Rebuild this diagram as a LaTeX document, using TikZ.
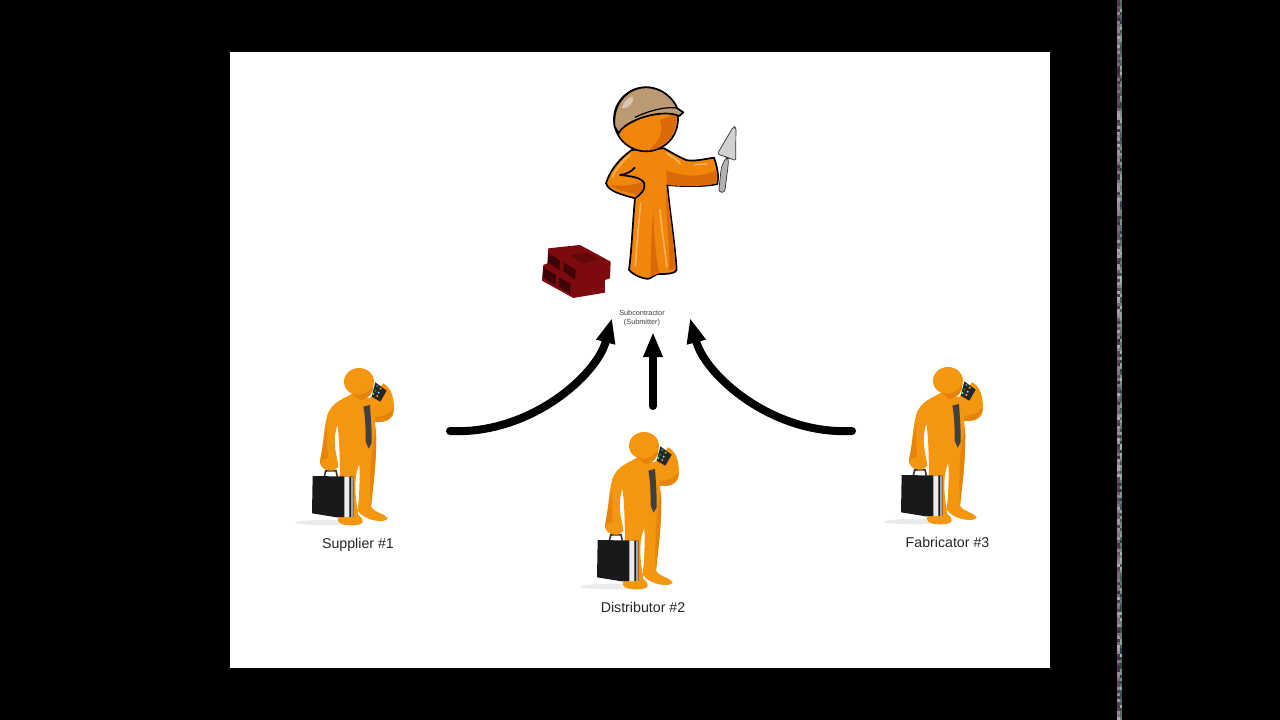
\documentclass[tikz,border=0pt]{standalone}
\usepackage{fontspec}
\setmainfont{Liberation Sans}
\usetikzlibrary{arrows.meta}
\definecolor{suit}{HTML}{F0860C}
\definecolor{suitdark}{HTML}{D96A05}
\definecolor{suitlight}{HTML}{FBB45C}
\definecolor{manfill}{HTML}{F4960F}
\definecolor{mandark}{HTML}{E5830A}
\definecolor{helmet}{HTML}{BC9A73}
\definecolor{brick}{HTML}{7C0A0E}
\definecolor{brickdark}{HTML}{3E0306}
\tikzset{
  flow/.style={line width=8pt, line cap=round, -{Triangle[length=25pt,width=18pt]}},
  caption/.style={font=\fontsize{14.2}{16}\selectfont, text=black!85, anchor=base},
  caller/.pic={
    \begin{scope}[x=0.3333pt, y=-0.3333pt]
      \fill[black!8] (110,518) ellipse (95 and 8);
      % body
      \fill[manfill] (190,130) .. controls (150,150) and (125,160) .. (112,195)
        .. controls (100,240) and (100,290) .. (90,335)
        .. controls (90,360) and (130,370) .. (145,350)
        .. controls (140,310) and (125,280) .. (142,225)
        .. controls (152,280) and (150,420) .. (148,500)
        .. controls (135,515) and (150,527) .. (190,526)
        .. controls (225,525) and (225,510) .. (205,495)
        .. controls (195,440) and (190,380) .. (208,342)
        .. controls (210,390) and (208,440) .. (203,482)
        .. controls (225,515) and (290,520) .. (293,505)
        .. controls (285,490) and (255,490) .. (243,470)
        .. controls (250,400) and (265,310) .. (255,215)
        .. controls (285,220) and (315,210) .. (312,170)
        .. controls (310,140) and (305,115) .. (280,100)
        -- (240,145) -- cycle;
      \fill[mandark] (258,230) .. controls (262,310) and (250,400) .. (243,470)
        .. controls (238,400) and (240,320) .. (258,230) -- cycle;
      \fill[mandark] (90,335) .. controls (95,300) and (105,260) .. (112,225)
        .. controls (110,280) and (112,310) .. (118,352)
        .. controls (108,358) and (92,352) .. (90,335) -- cycle;
      \fill[mandark] (255,215) .. controls (285,218) and (310,205) .. (310,175)
        .. controls (295,195) and (275,200) .. (255,200) -- cycle;
      % head
      \fill[manfill] (207,95) ellipse (45 and 41);
      \fill[mandark] (190,132) .. controls (210,140) and (235,130) .. (250,105)
        .. controls (252,125) and (240,145) .. (210,150) -- cycle;
      % tie
      \fill[black!75] (220,170) -- (240,165) .. controls (243,210) and (246,250) .. (245,280)
        -- (236,296) -- (227,275) .. controls (227,230) and (226,200) .. (220,170) -- cycle;
      % phone
      \fill[black!85] (256,97) -- (290,122) -- (271,155) -- (245,140) -- cycle;
      \foreach \dx/\dy/\dotcol in {262/108/cyan!70!black, 272/116/yellow!70!black, 256/122/green!60!black, 266/128/cyan!60!white, 250/132/green!60!white, 262/138/red!50!white}
        \fill[\dotcol] (\dx,\dy) circle (3.5);
      % briefcase
      \draw[black!80, line width=1.6pt] (103,380) -- (107,363) -- (138,362) -- (142,380);
      \fill[black!90] (68,378) -- (190,380) -- (190,500) -- (140,502) -- (66,490) -- cycle;
      \fill[black!8] (163,380) -- (178,380) -- (178,501) -- (163,502) -- cycle;
      \fill[black!35] (183,380) -- (188,380) -- (188,500) -- (183,500) -- cycle;
      \fill[manfill] (95,330) .. controls (85,345) and (100,365) .. (130,362)
        .. controls (150,350) and (140,330) .. (130,320) -- cycle;
    \end{scope}
  }
}
\begin{document}
\begin{tikzpicture}[x=1pt, y=-1pt]
    \useasboundingbox (0,0) rectangle (1280,720);
    \fill[black] (0,0) rectangle (1280,720);
    \fill[white] (230,52) rectangle (1050,668);

    % noise stripe on the right
    \pgfmathsetseed{7}
    \foreach \row in {0,3,...,717} {
        \pgfmathsetmacro{\mixa}{35+random(0,50)}
        \pgfmathsetmacro{\mixb}{35+random(0,50)}
        \fill[violet!25!black!\mixa!white] (1117,\row) rectangle (1119.5,\row+3);
        \fill[teal!25!black!\mixb!white] (1119.5,\row) rectangle (1122,\row+3);
    }

    % subcontractor
    \begin{scope}[shift={(520,70)}, x=0.3333pt, y=-0.3333pt]
        % bricks
        \fill[brick] (85,535) -- (180,525) -- (272,575) -- (270,625) -- (255,630) -- (255,668)
            -- (160,684) -- (66,632) -- (70,585) -- (82,580) -- cycle;
        \fill[brickdark] (85,548) -- (120,572) -- (118,600) -- (84,578) -- cycle;
        \fill[brickdark] (132,578) -- (168,600) -- (165,628) -- (130,604) -- cycle;
        \fill[brickdark] (70,592) -- (108,615) -- (106,645) -- (68,622) -- cycle;
        \fill[brickdark] (118,622) -- (152,642) -- (150,672) -- (116,650) -- cycle;
        \fill[brickdark!40!brick] (150,555) -- (200,548) -- (235,568) -- (190,580) -- cycle;
        % trowel
        \draw[black!80, line width=0.7pt, fill=black!18, rounded corners=2pt] (640,170) -- (648,172)
            -- (647,272) -- (622,262) -- (592,252) -- cycle;
        \draw[black!80, line width=0.7pt, fill=black!30, rounded corners=3pt] (618,262) -- (626,266)
            -- (624,290) -- (614,368) -- (596,366) -- (604,292) -- cycle;
        % body
        \draw[black, line width=1.7pt, fill=suit, line join=round]
            (335,240) .. controls (300,265) and (270,300) .. (258,340)
            .. controls (265,365) and (310,375) .. (345,385)
            .. controls (338,460) and (335,540) .. (327,600)
            .. controls (345,620) and (380,630) .. (390,625)
            .. controls (405,615) and (415,610) .. (420,612)
            .. controls (440,612) and (465,612) .. (470,600)
            .. controls (465,520) and (450,430) .. (442,345)
            .. controls (490,350) and (560,350) .. (592,342)
            .. controls (598,315) and (590,285) .. (582,263)
            .. controls (550,268) and (520,275) .. (498,270)
            .. controls (475,260) and (450,245) .. (432,235) -- cycle;
        % shading
        \fill[suitdark] (442,345) .. controls (490,350) and (560,350) .. (590,340)
            .. controls (594,325) and (592,310) .. (588,300)
            .. controls (550,325) and (480,320) .. (438,300) -- cycle;
        \fill[suitdark] (440,350) .. controls (450,430) and (462,520) .. (467,598)
            -- (448,600) .. controls (450,520) and (435,430) .. (440,350) -- cycle;
        \fill[suitdark] (400,420) .. controls (402,490) and (405,550) .. (418,610)
            -- (392,620) .. controls (392,540) and (395,480) .. (400,420) -- cycle;
        \fill[suitdark] (270,345) .. controls (290,362) and (330,368) .. (352,375)
            .. controls (370,370) and (372,350) .. (365,335)
            .. controls (350,345) and (310,350) .. (270,345) -- cycle;
        % highlights
        \draw[suitlight, line width=1.6pt, line cap=round] (362,400) .. controls (355,470) and (350,530) .. (346,588);
        \draw[suitlight, line width=1.6pt, line cap=round] (420,420) .. controls (425,480) and (435,540) .. (440,590);
        \draw[suitlight, line width=1.6pt, line cap=round] (330,255) .. controls (305,275) and (290,295) .. (278,320);
        \draw[suitlight, line width=1.6pt, line cap=round] (440,250) .. controls (455,260) and (470,268) .. (480,280);
        \draw[suitlight, line width=1.6pt, line cap=round] (525,284) -- (560,282);
        % hand on hip
        \draw[black, line width=1.7pt, line join=round]
            (345,292) .. controls (335,305) and (320,312) .. (300,315)
            .. controls (330,318) and (365,322) .. (373,340)
            .. controls (378,360) and (360,375) .. (345,385);
        % head
        \draw[black, line width=1.7pt, fill=suit] (378,148) circle (96);
        \fill[suitdark] (420,150) -- (470,130) .. controls (475,180) and (440,235) .. (385,242)
            .. controls (420,215) and (432,180) .. (420,150) -- cycle;
        \draw[black, line width=1.7pt, fill=helmet, line join=round]
            (284,170) .. controls (275,100) and (325,52) .. (378,52)
            .. controls (425,52) and (460,85) .. (472,115)
            -- (490,127) -- (478,138) .. controls (450,125) and (400,130) .. (360,145)
            .. controls (335,155) and (305,170) .. (296,190) -- cycle;
        \fill[helmet!55!white] (305,115) .. controls (310,95) and (325,82) .. (338,80)
            .. controls (345,95) and (325,118) .. (305,115) -- cycle;
        \draw[black, line width=1.2pt] (345,142) .. controls (395,118) and (450,108) .. (472,115);
    \end{scope}

    \node[font=\fontsize{7.3}{8.3}\selectfont, align=center, text=black!75, inner sep=0pt] at (642,318) (sub) {Subcontractor\\(Submitter)};

    % the three callers
    \pic at (290,350) {caller};
    \pic at (575,414) {caller};
    \pic at (879,349) {caller};

    \node[caption] at (358,548) (supplier) {Supplier \#1};
    \node[caption] at (643,612) (distributor) {Distributor \#2};
    \node[caption] at (947.5,547) (fabricator) {Fabricator \#3};

    \coordinate (s1) at (450,431);
    \coordinate (s2) at (653,406);
    \coordinate (s3) at (852,431);
    \coordinate (t1) at (612,318);
    \coordinate (t2) at (653,332);
    \coordinate (t3) at (690,318);

    \draw[flow] (s1) .. controls (530,435) and (597,375) .. (t1);
    \draw[flow] (s2) -- (t2);
    \draw[flow] (s3) .. controls (772,435) and (705,375) .. (t3);

\end{tikzpicture}
\end{document}
